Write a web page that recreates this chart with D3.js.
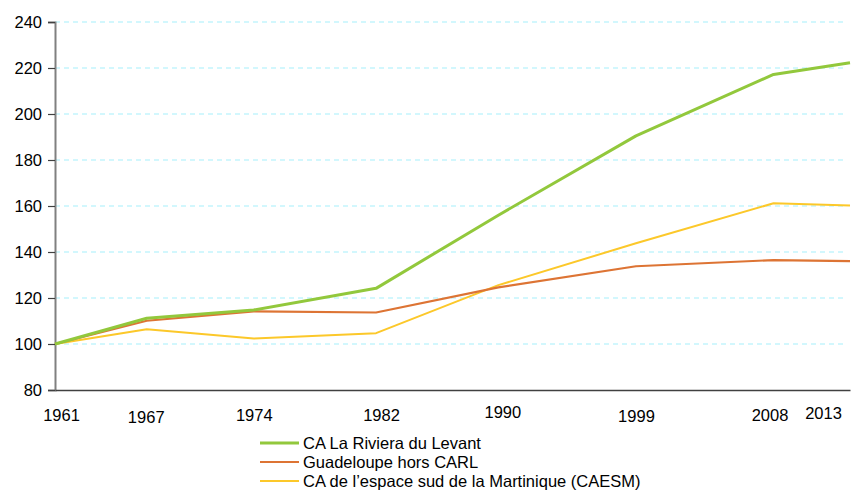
<!DOCTYPE html>
<html>
<head>
<meta charset="utf-8">
<script src="https://cdn.jsdelivr.net/npm/d3@7"></script>
<style>
  body { margin: 0; background: #fff; }
  text { font-family: "Liberation Sans", Arial, sans-serif; fill: #000; }
</style>
</head>
<body>
<div id="chart"></div>
<script>
// data (index, base 100 in 1961)
var years = [1961, 1967, 1974, 1982, 1990, 1999, 2008, 2013];
var riviera = [100, 111.2, 114.8, 124.2, 156, 190.5, 217.2, 222.3];
var guadeloupe = [100, 110.1, 114.2, 113.7, 124.6, 133.8, 136.5, 136];
var caesm = [100, 106.4, 102.4, 104.7, 125.6, 143.8, 161.2, 160.2];
var yTicks = [80, 100, 120, 140, 160, 180, 200, 220, 240];
var seriesNames = ["CA La Riviera du Levant", "Guadeloupe hors CARL", "CA de l\u2019espace sud de la Martinique (CAESM)"];

var svgWidth = 855;
var svgHeight = 490;

var margin = { top: 22, right: 5, bottom: 100, left: 55 };
var width = svgWidth - margin.left - margin.right;
var height = svgHeight - margin.top - margin.bottom;

var svg = d3.select("#chart")
  .append("svg")
  .attr("width", svgWidth)
  .attr("height", svgHeight);

var chartGroup = svg.append("g")
  .attr("transform", `translate(${margin.left}, ${margin.top})`);

var xScale = d3.scaleLinear().domain([1961, 2013]).range([0, width]);
var yScale = d3.scaleLinear().domain([80, 240]).range([height, 0]);

// dashed grid
chartGroup.selectAll(".grid")
  .data(yTicks.filter(d => d > 80))
  .enter()
  .append("line")
  .attr("x1", 0)
  .attr("x2", width - 5)
  .attr("y1", d => yScale(d))
  .attr("y2", d => yScale(d))
  .attr("stroke", "#a6f0fc")
  .attr("stroke-width", 1.2)
  .attr("stroke-dasharray", "5,4");

// y axis
var leftAxis = d3.axisLeft(yScale).tickValues(yTicks).tickSize(7).tickPadding(6);
var yAxis = chartGroup.append("g").call(leftAxis);
yAxis.select(".domain").attr("stroke", "#808080").attr("stroke-width", 2);
yAxis.selectAll(".tick line").attr("stroke", "#404040").attr("stroke-width", 1.2);
yAxis.selectAll(".tick text").attr("font-size", "16.5px").attr("font-family", "Liberation Sans, Arial, sans-serif").attr("fill", "#000");

// x axis (labels placed a bit unevenly, as in the source)
var labelShift = { 1961: [6, 0], 1967: [-1, 2], 1974: [0, 0], 1982: [5, 0], 1990: [4, -3], 1999: [0, 1], 2008: [-4, 0], 2013: [-27, -2] };
var bottomAxis = d3.axisBottom(xScale).tickValues(years).tickFormat(d3.format("d")).tickSize(0).tickPadding(0);
var xAxis = chartGroup.append("g")
  .attr("transform", `translate(0, ${height})`)
  .call(bottomAxis);
xAxis.select(".domain").attr("stroke", "#404040").attr("stroke-width", 1.5);
xAxis.selectAll(".tick text")
  .attr("font-size", "16.5px")
  .attr("font-family", "Liberation Sans, Arial, sans-serif")
  .attr("fill", "#000")
  .attr("dy", null)
  .attr("x", d => labelShift[d][0])
  .attr("y", d => 31 + labelShift[d][1]);

// lines
var series = [
  { name: seriesNames[2], values: caesm, color: "#fcc82a", width: 2 },
  { name: seriesNames[1], values: guadeloupe, color: "#dd7434", width: 2.2 },
  { name: seriesNames[0], values: riviera, color: "#92c83c", width: 3 }
];

var line = d3.line()
  .x((d, i) => xScale(years[i]))
  .y(d => yScale(d));

chartGroup.selectAll(".series")
  .data(series)
  .enter()
  .append("path")
  .attr("d", d => line(d.values))
  .attr("fill", "none")
  .attr("stroke", d => d.color)
  .attr("stroke-width", d => d.width)
  .attr("stroke-linejoin", "round");

// legend
var legendItems = series.slice().reverse();
var legend = svg.append("g").attr("transform", "translate(260, 443)");
var rows = legend.selectAll("g")
  .data(legendItems)
  .enter()
  .append("g")
  .attr("transform", (d, i) => `translate(0, ${i * 19})`);
rows.append("line")
  .attr("x1", 0).attr("x2", 39)
  .attr("y1", 0).attr("y2", 0)
  .attr("stroke", d => d.color)
  .attr("stroke-width", d => d.width);
rows.append("text")
  .attr("x", 43)
  .attr("y", 5.5)
  .attr("font-size", "16.5px")
  .text(d => d.name);
</script>
</body>
</html>
